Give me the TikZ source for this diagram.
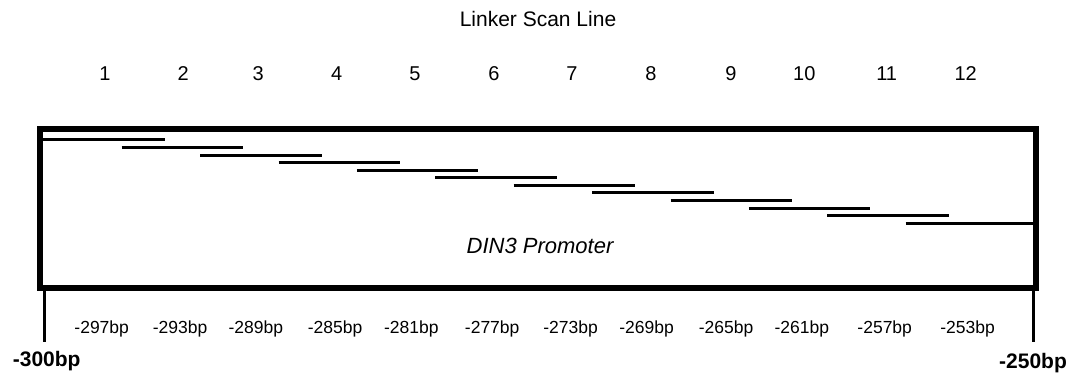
\documentclass[tikz,border=0pt]{standalone}
\usepackage{fontspec}
\setmainfont{Liberation Sans}

\begin{document}
\begin{tikzpicture}[x=1pt,y=-1pt,
  promoter/.style={line width=6pt},
  scan line/.style={line width=3pt},
  end tick/.style={line width=3pt},
  every node/.style={inner sep=0pt,anchor=base},
  title label/.style={font=\fontsize{21}{24}\selectfont},
  num label/.style={font=\fontsize{20}{22}\selectfont},
  bp label/.style={font=\fontsize{17.5}{20}\selectfont},
  end label/.style={font=\fontsize{21}{24}\selectfont\bfseries}]

  \useasboundingbox (0,0) rectangle (1078,374);

  \node[title label] (title) at (538,27) {Linker Scan Line};

  % scan line numbers
  \foreach \i/\x in {1/105,2/183.3,3/258.3,4/336.7,5/415,6/494,
                     7/572,8/651,9/731,10/804.3,11/886.7,12/965.7}
    \node[num label] (n\i) at (\x,81) {\i};

  % promoter box
  \coordinate (boxNW) at (40,129);
  \coordinate (boxSE) at (1035.5,288);
  \draw[promoter] (boxNW) rectangle (boxSE);
  \node[font=\fontsize{22}{24}\selectfont\itshape] (din3) at (540,253.3) {DIN3 Promoter};

  % scan lines
  \foreach \i in {1,...,12} {
    \pgfmathsetmacro{\xs}{43.3+78.4*(\i-1)}
    \pgfmathsetmacro{\xe}{\i==12 ? 1035.5 : \xs+121.5}
    \pgfmathsetmacro{\ys}{140+7.57*(\i-1)}
    \coordinate (s\i) at (\xs,\ys);
    \coordinate (e\i) at (\xe,\ys);
    \draw[scan line] (s\i) -- (e\i);
  }

  % end ticks
  \coordinate (t1) at (44.5,290);
  \coordinate (b1) at (44.5,342);
  \coordinate (t2) at (1033.5,290);
  \coordinate (b2) at (1033.5,342);
  \draw[end tick] (t1) -- (b1);
  \draw[end tick] (t2) -- (b2);
  \node[end label] (left) at (46.7,366.7) {-300bp};
  \node[end label] (right) at (1033,368.3) {-250bp};

  % bp labels
  \foreach \j/\x/\t in {1/101.7/297,2/180/293,3/255.8/289,4/335/285,
                        5/411.3/281,6/492.2/277,7/570.5/273,8/646.5/269,
                        9/726/265,10/801.8/261,11/884.7/257,12/967.5/253}
    \node[bp label] (bp\j) at (\x,333.3) {-\t bp};
\end{tikzpicture}
\end{document}
